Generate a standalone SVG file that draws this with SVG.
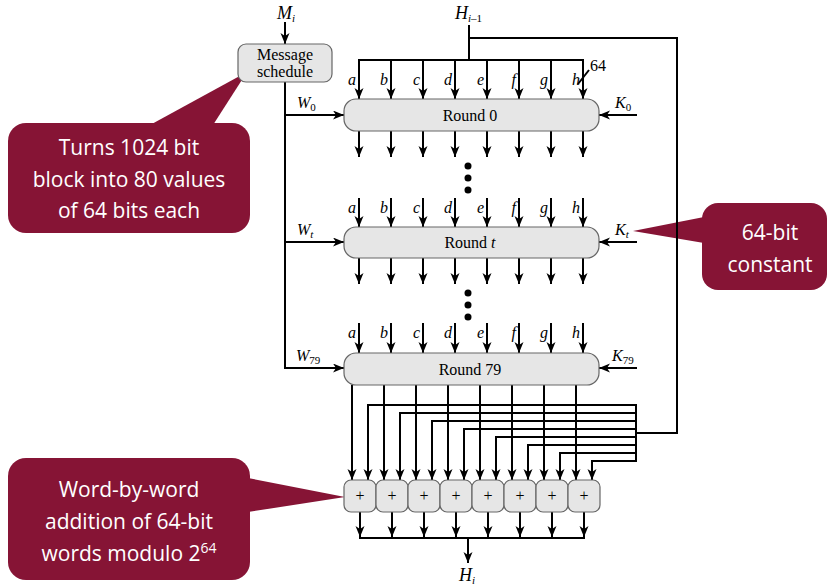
<svg xmlns="http://www.w3.org/2000/svg" width="833" height="586" viewBox="0 0 833 586">
<style>
.ln{stroke:#000;stroke-width:2;fill:none}
.ar{stroke:#000;stroke-width:2;fill:none;marker-end:url(#ah)}
.box{fill:#e6e6e6;stroke:#666;stroke-width:1.2}
.t{font-family:"Liberation Serif",serif;font-size:16px;fill:#000}
.it{font-style:italic}
.lb{font-family:"Liberation Serif",serif;font-style:italic;font-size:16px;fill:#000;text-anchor:end}
.sub{font-size:11px}
.co{fill:#861435}
.ct{font-family:"Open Sans","Noto Sans",sans-serif;font-size:21px;fill:#fff;text-anchor:middle}
</style>
<defs>
<marker id="ah" markerUnits="userSpaceOnUse" markerWidth="12" markerHeight="10" refX="11" refY="4.5" orient="auto">
<path d="M0,0 L11,4.5 L0,9 L3,4.5 z" fill="#000"/>
</marker>
</defs>

<g id="callout-schedule">
<polygon class="co" points="150,125 247,72 213,125"/>
<rect class="co" x="8" y="123" width="242" height="110" rx="18"/>
<text class="ct" x="129" y="155">Turns 1024 bit</text>
<text class="ct" x="129" y="187">block into 80 values</text>
<text class="ct" x="129" y="218">of 64 bits each</text>
</g>

<g id="callout-constant">
<polygon class="co" points="704,217 633,231 704,243"/>
<rect class="co" x="702" y="203" width="125" height="87" rx="16"/>
<text class="ct" x="770" y="240">64-bit</text>
<text class="ct" x="770" y="272">constant</text>
</g>

<g id="callout-addition">
<polygon class="co" points="248,478 345,497 248,512"/>
<rect class="co" x="8" y="458" width="242" height="122" rx="18"/>
<text class="ct" x="129" y="497">Word-by-word</text>
<text class="ct" x="129" y="529">addition of 64-bit</text>
<text class="ct" x="129" y="561">words modulo 2<tspan font-size="14" dy="-8">64</tspan></text>
</g>

<g id="connectors">
<line class="ar" x1="285" y1="22" x2="285" y2="44"/>
<polyline class="ln" points="285,82 285,369"/>
<line class="ar" x1="284" y1="115" x2="344" y2="115"/>
<line class="ar" x1="284" y1="242" x2="344" y2="242"/>
<line class="ar" x1="284" y1="368" x2="344" y2="368"/>
<line class="ar" x1="637" y1="115" x2="599" y2="115"/>
<line class="ar" x1="637" y1="242" x2="599" y2="242"/>
<line class="ar" x1="637" y1="368" x2="599" y2="368"/>
<line class="ln" x1="469" y1="25" x2="469" y2="61"/>
<polyline class="ln" points="469,38 677,38 677,433 636,433"/>
<line class="ln" x1="358" y1="60" x2="584" y2="60"/>
<line class="ln" x1="578" y1="84" x2="589" y2="70"/>
<line class="ar" x1="359" y1="60" x2="359" y2="99"/>
<line class="ar" x1="391" y1="60" x2="391" y2="99"/>
<line class="ar" x1="423" y1="60" x2="423" y2="99"/>
<line class="ar" x1="455" y1="60" x2="455" y2="99"/>
<line class="ar" x1="487" y1="60" x2="487" y2="99"/>
<line class="ar" x1="519" y1="60" x2="519" y2="99"/>
<line class="ar" x1="551" y1="60" x2="551" y2="99"/>
<line class="ar" x1="583" y1="60" x2="583" y2="99"/>
<line class="ar" x1="359" y1="131" x2="359" y2="157"/>
<line class="ar" x1="391" y1="131" x2="391" y2="157"/>
<line class="ar" x1="423" y1="131" x2="423" y2="157"/>
<line class="ar" x1="455" y1="131" x2="455" y2="157"/>
<line class="ar" x1="487" y1="131" x2="487" y2="157"/>
<line class="ar" x1="519" y1="131" x2="519" y2="157"/>
<line class="ar" x1="551" y1="131" x2="551" y2="157"/>
<line class="ar" x1="583" y1="131" x2="583" y2="157"/>
<line class="ar" x1="359" y1="198" x2="359" y2="227"/>
<line class="ar" x1="391" y1="198" x2="391" y2="227"/>
<line class="ar" x1="423" y1="198" x2="423" y2="227"/>
<line class="ar" x1="455" y1="198" x2="455" y2="227"/>
<line class="ar" x1="487" y1="198" x2="487" y2="227"/>
<line class="ar" x1="519" y1="198" x2="519" y2="227"/>
<line class="ar" x1="551" y1="198" x2="551" y2="227"/>
<line class="ar" x1="583" y1="198" x2="583" y2="227"/>
<line class="ar" x1="359" y1="258" x2="359" y2="284"/>
<line class="ar" x1="391" y1="258" x2="391" y2="284"/>
<line class="ar" x1="423" y1="258" x2="423" y2="284"/>
<line class="ar" x1="455" y1="258" x2="455" y2="284"/>
<line class="ar" x1="487" y1="258" x2="487" y2="284"/>
<line class="ar" x1="519" y1="258" x2="519" y2="284"/>
<line class="ar" x1="551" y1="258" x2="551" y2="284"/>
<line class="ar" x1="583" y1="258" x2="583" y2="284"/>
<line class="ar" x1="359" y1="323" x2="359" y2="353"/>
<line class="ar" x1="391" y1="323" x2="391" y2="353"/>
<line class="ar" x1="423" y1="323" x2="423" y2="353"/>
<line class="ar" x1="455" y1="323" x2="455" y2="353"/>
<line class="ar" x1="487" y1="323" x2="487" y2="353"/>
<line class="ar" x1="519" y1="323" x2="519" y2="353"/>
<line class="ar" x1="551" y1="323" x2="551" y2="353"/>
<line class="ar" x1="583" y1="323" x2="583" y2="353"/>
<line class="ar" x1="352" y1="385" x2="352" y2="480"/>
<line class="ar" x1="384" y1="385" x2="384" y2="480"/>
<line class="ar" x1="416" y1="385" x2="416" y2="480"/>
<line class="ar" x1="448" y1="385" x2="448" y2="480"/>
<line class="ar" x1="480" y1="385" x2="480" y2="480"/>
<line class="ar" x1="512" y1="385" x2="512" y2="480"/>
<line class="ar" x1="544" y1="385" x2="544" y2="480"/>
<line class="ar" x1="576" y1="385" x2="576" y2="480"/>
<line class="ln" x1="636" y1="404" x2="636" y2="462"/>
<polyline class="ar" points="636,405 368,405 368,480"/>
<polyline class="ar" points="636,413 400,413 400,480"/>
<polyline class="ar" points="636,421 432,421 432,480"/>
<polyline class="ar" points="636,429 464,429 464,480"/>
<polyline class="ar" points="636,437 496,437 496,480"/>
<polyline class="ar" points="636,445 528,445 528,480"/>
<polyline class="ar" points="636,453 560,453 560,480"/>
<polyline class="ar" points="636,461 592,461 592,480"/>
<line class="ar" x1="360" y1="512" x2="360" y2="537"/>
<line class="ar" x1="392" y1="512" x2="392" y2="537"/>
<line class="ar" x1="424" y1="512" x2="424" y2="537"/>
<line class="ar" x1="456" y1="512" x2="456" y2="537"/>
<line class="ar" x1="488" y1="512" x2="488" y2="537"/>
<line class="ar" x1="520" y1="512" x2="520" y2="537"/>
<line class="ar" x1="552" y1="512" x2="552" y2="537"/>
<line class="ar" x1="584" y1="512" x2="584" y2="537"/>
<line class="ln" x1="359" y1="538" x2="585" y2="538"/>
<line class="ar" x1="468" y1="538" x2="468" y2="563"/>
</g>

<g id="dots">
<circle cx="468" cy="166" r="3.5"/>
<circle cx="468" cy="178" r="3.5"/>
<circle cx="468" cy="190" r="3.5"/>
<circle cx="468" cy="293" r="3.5"/>
<circle cx="468" cy="305" r="3.5"/>
<circle cx="468" cy="317" r="3.5"/>
</g>

<g id="labels">
<text class="t" x="277" y="19"><tspan class="it" font-size="18">M</tspan><tspan class="it sub" dy="3">i</tspan></text>
<text class="t" x="455" y="19"><tspan class="it" font-size="18">H</tspan><tspan class="it sub" dy="3">i</tspan><tspan class="sub">–1</tspan></text>
<text class="t" x="590" y="71">64</text>
<text class="t" x="297" y="108"><tspan class="it">W</tspan><tspan class="sub" dy="3">0</tspan></text>
<text class="t" x="297" y="235"><tspan class="it">W</tspan><tspan class="sub it" dy="3">t</tspan></text>
<text class="t" x="296" y="361"><tspan class="it">W</tspan><tspan class="sub" dy="3">79</tspan></text>
<text class="t" x="615" y="108"><tspan class="it">K</tspan><tspan class="sub" dy="3">0</tspan></text>
<text class="t" x="615" y="235"><tspan class="it">K</tspan><tspan class="sub it" dy="3">t</tspan></text>
<text class="t" x="612" y="361"><tspan class="it">K</tspan><tspan class="sub" dy="3">79</tspan></text>
<text class="t" x="459" y="581"><tspan class="it" font-size="18">H</tspan><tspan class="it sub" dy="3">i</tspan></text>
</g>

<g id="letters-0">
<text class="lb" x="356" y="85">a</text><text class="lb" x="388" y="85">b</text><text class="lb" x="420" y="85">c</text><text class="lb" x="452" y="85">d</text><text class="lb" x="484" y="85">e</text><text class="lb" x="516" y="85">f</text><text class="lb" x="548" y="85">g</text><text class="lb" x="580" y="85">h</text>
</g>
<g id="letters-t">
<text class="lb" x="356" y="213">a</text><text class="lb" x="388" y="213">b</text><text class="lb" x="420" y="213">c</text><text class="lb" x="452" y="213">d</text><text class="lb" x="484" y="213">e</text><text class="lb" x="516" y="213">f</text><text class="lb" x="548" y="213">g</text><text class="lb" x="580" y="213">h</text>
</g>
<g id="letters-79">
<text class="lb" x="356" y="338">a</text><text class="lb" x="388" y="338">b</text><text class="lb" x="420" y="338">c</text><text class="lb" x="452" y="338">d</text><text class="lb" x="484" y="338">e</text><text class="lb" x="516" y="338">f</text><text class="lb" x="548" y="338">g</text><text class="lb" x="580" y="338">h</text>
</g>

<g id="message-schedule">
<rect class="box" x="238" y="44" width="94" height="38" rx="8"/>
<text class="t" x="285" y="60" text-anchor="middle" font-size="15.5">Message</text>
<text class="t" x="285" y="77" text-anchor="middle" font-size="15.5">schedule</text>
</g>
<g id="round-0">
<rect class="box" x="344" y="99" width="255" height="32" rx="12"/>
<text class="t" x="470" y="121" text-anchor="middle" font-size="17">Round 0</text>
</g>
<g id="round-t">
<rect class="box" x="344" y="227" width="255" height="31" rx="12"/>
<text class="t" x="470" y="248" text-anchor="middle" font-size="17">Round <tspan class="it">t</tspan></text>
</g>
<g id="round-79">
<rect class="box" x="344" y="353" width="255" height="32" rx="12"/>
<text class="t" x="470" y="375" text-anchor="middle" font-size="17">Round 79</text>
</g>
<g id="adders">
<rect class="box" x="344" y="480" width="32" height="32" rx="7"/>
<rect class="box" x="376" y="480" width="32" height="32" rx="7"/>
<rect class="box" x="408" y="480" width="32" height="32" rx="7"/>
<rect class="box" x="440" y="480" width="32" height="32" rx="7"/>
<rect class="box" x="472" y="480" width="32" height="32" rx="7"/>
<rect class="box" x="504" y="480" width="32" height="32" rx="7"/>
<rect class="box" x="536" y="480" width="32" height="32" rx="7"/>
<rect class="box" x="568" y="480" width="32" height="32" rx="7"/>
<text class="t" y="501" text-anchor="middle" font-size="15"><tspan x="360">+</tspan><tspan x="392">+</tspan><tspan x="424">+</tspan><tspan x="456">+</tspan><tspan x="488">+</tspan><tspan x="520">+</tspan><tspan x="552">+</tspan><tspan x="584">+</tspan></text>
</g>
</svg>
